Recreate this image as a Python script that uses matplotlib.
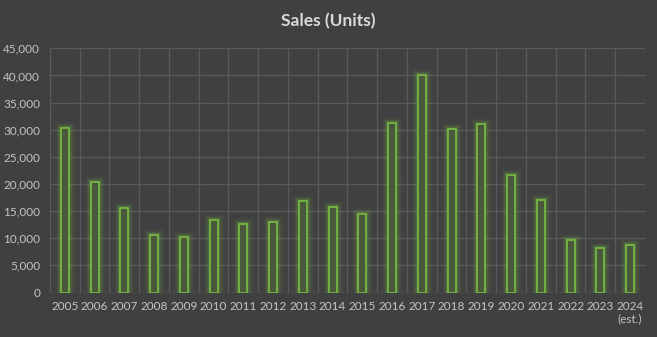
import matplotlib
matplotlib.use("Agg")
import matplotlib.pyplot as plt
import numpy as np

years = ["2005", "2006", "2007", "2008", "2009", "2010", "2011", "2012", "2013", "2014",
         "2015", "2016", "2017", "2018", "2019", "2020", "2021", "2022", "2023", "2024\n(est.)"]
sales = [30300, 20400, 15500, 10550, 10200, 13300, 12600, 12950, 16800, 15700,
         14500, 31200, 40000, 30100, 31000, 21600, 17000, 9600, 8150, 8700]
yticks = [0, 5000, 10000, 15000, 20000, 25000, 30000, 35000, 40000, 45000]

bg = "#404040"
grid_col = "#595959"
green = "#7cc444"
text_col = "#c4c4c4"

plt.rcParams["font.family"] = ["Lato", "DejaVu Sans"]

fig = plt.figure(figsize=(6.57, 3.37), dpi=100, facecolor=bg)
ax = fig.add_axes([0.0761, 0.132, 0.9056, 0.7247], facecolor=bg)

x = np.arange(len(years))
w = 0.27

# soft glow around each bar
for lw, a in [(9, 0.04), (6.5, 0.07), (4.5, 0.10), (3, 0.14)]:
    ax.bar(x, sales, width=w, color="none", edgecolor=green, linewidth=lw,
           alpha=a, zorder=2)
ax.bar(x, sales, width=w, color="#4a593b", edgecolor=green, linewidth=1.1, zorder=3)

ax.set_xlim(-0.5, len(years) - 0.5)
ax.set_ylim(0, 45000)
ax.set_yticks(yticks)
ax.set_yticklabels([f"{v:,}" for v in yticks])
ax.set_xticks(x)
ax.set_xticklabels(years)
ax.set_xticks(np.arange(-0.5, len(years), 1.0), minor=True)

ax.grid(True, axis="y", which="major", color=grid_col, linewidth=1, zorder=0)
ax.grid(True, axis="x", which="minor", color=grid_col, linewidth=1, zorder=0)
ax.grid(False, axis="x", which="major")
ax.set_axisbelow(True)

for s in ax.spines.values():
    s.set_visible(False)
ax.tick_params(which="both", length=0, colors=text_col, labelsize=8.5)
ax.tick_params(axis="x", pad=6)
ax.tick_params(axis="y", pad=7)

fig.text(0.5, 0.938, "Sales (Units)", ha="center", va="center", color="#d9d9d9",
         fontsize=12.5, fontweight="bold")

fig.savefig("out.png", dpi=100, facecolor=bg)
